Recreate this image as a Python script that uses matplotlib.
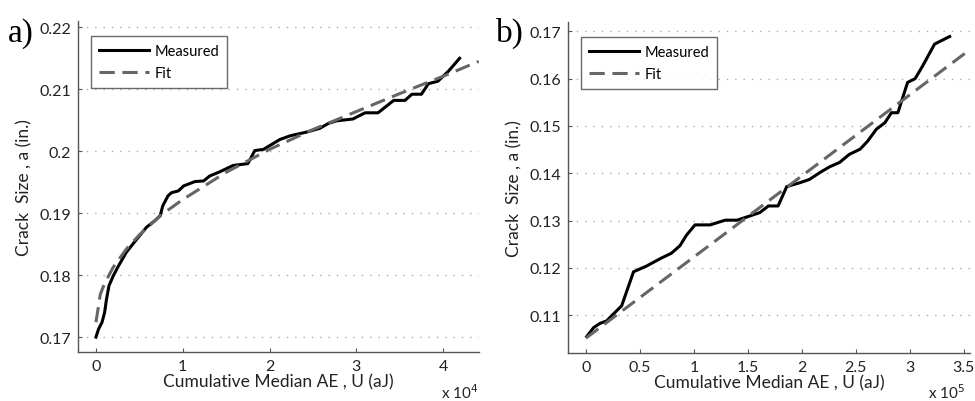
import matplotlib.pyplot as plt

# a) crack size vs cumulative median AE (x 1e4 aJ)
u_a = [0.00, 0.03, 0.07, 0.10, 0.12, 0.15, 0.20, 0.26, 0.35, 0.47, 0.58, 0.68,
       0.74, 0.77, 0.83, 0.87, 0.95, 1.01, 1.14, 1.24, 1.31, 1.43, 1.58, 1.75,
       1.83, 1.93, 2.12, 2.24, 2.43, 2.58, 2.68, 2.77, 2.96, 3.10, 3.25, 3.43,
       3.56, 3.64, 3.75, 3.83, 3.94, 4.06, 4.19]
a_a = [0.1700, 0.1713, 0.1724, 0.1740, 0.1760, 0.1783, 0.1799, 0.1815, 0.1837,
       0.1858, 0.1877, 0.1888, 0.1896, 0.1912, 0.1928, 0.1933, 0.1936, 0.1944,
       0.1951, 0.1952, 0.1960, 0.1967, 0.1977, 0.1980, 0.2001, 0.2003, 0.2019,
       0.2025, 0.2031, 0.2037, 0.2045, 0.2049, 0.2052, 0.2062, 0.2062, 0.2082,
       0.2082, 0.2092, 0.2092, 0.2109, 0.2113, 0.2129, 0.2150]
fit_u_a = [0.00, 0.05, 0.10, 0.20, 0.35, 0.50, 0.75, 1.00, 1.50, 2.00, 2.50,
           3.00, 3.50, 4.00, 4.41]
fit_a_a = [0.1724, 0.1769, 0.1787, 0.1813, 0.1842, 0.1865, 0.1897, 0.1922,
           0.1966, 0.2003, 0.2035, 0.2064, 0.2093, 0.2121, 0.2145]

# b) crack size vs cumulative median AE (x 1e5 aJ)
u_b = [0.006, 0.07, 0.13, 0.19, 0.25, 0.33, 0.44, 0.56, 0.69, 0.79, 0.87, 0.93,
       1.01, 1.15, 1.29, 1.40, 1.52, 1.61, 1.69, 1.78, 1.86, 1.98, 2.07, 2.17,
       2.26, 2.35, 2.44, 2.54, 2.61, 2.69, 2.77, 2.83, 2.89, 2.98, 3.05, 3.12,
       3.23, 3.37]
a_b = [0.1055, 0.1074, 0.1083, 0.1088, 0.1102, 0.1120, 0.1192, 0.1204, 0.1220,
       0.1231, 0.1247, 0.1269, 0.1291, 0.1291, 0.1301, 0.1301, 0.1310, 0.1317,
       0.1331, 0.1331, 0.1372, 0.1380, 0.1387, 0.1402, 0.1414, 0.1423, 0.1440,
       0.1451, 0.1468, 0.1493, 0.1507, 0.1528, 0.1528, 0.1592, 0.1600, 0.1627,
       0.1673, 0.1689]
fit_u_b = [0.0, 3.556]
fit_a_b = [0.1052, 0.1661]

plt.rcParams["font.family"] = "Lato"

fig = plt.figure(figsize=(9.75, 4.02), dpi=100)
ax_a = fig.add_axes([0.080, 0.122, 0.411, 0.823])
ax_b = fig.add_axes([0.5826, 0.119, 0.412, 0.823])


def style_axes(ax, xticks, xlabels, yticks, ylabels, xlim, ylim):
    ax.set_xlim(*xlim)
    ax.set_ylim(*ylim)
    ax.set_xticks(xticks)
    ax.set_xticklabels(xlabels)
    ax.set_yticks(yticks)
    ax.set_yticklabels(ylabels)
    for side in ["top", "right"]:
        ax.spines[side].set_visible(False)
    for side in ["left", "bottom"]:
        ax.spines[side].set_color("#555555")
        ax.spines[side].set_linewidth(1.0)
    ax.tick_params(direction="in", length=3, width=0.8, color="#555555",
                   labelsize=11.5, labelcolor="#222222", pad=5)
    ax.yaxis.grid(True, linestyle=(0, (1, 5)), color="#aaaaaa", linewidth=1)
    ax.set_axisbelow(True)
    ax.set_xlabel("Cumulative Median AE , U (aJ)", fontsize=12.5,
                  color="#222222", labelpad=0)
    ax.set_ylabel("Crack  Size , a (in.)", fontsize=12.5, color="#222222",
                  labelpad=5)


for ax, u, a, fu, fa in [(ax_a, u_a, a_a, fit_u_a, fit_a_a),
                         (ax_b, u_b, a_b, fit_u_b, fit_a_b)]:
    ax.plot(u, a, color="black", linewidth=2.2, label="Measured")
    ax.plot(fu, fa, color="#666666", linewidth=2.2, dashes=(5, 2.5),
            label="Fit")
    leg = ax.legend(loc="upper left", bbox_to_anchor=(0.033, 0.955),
                    fontsize=10.5, frameon=True, fancybox=False,
                    handlelength=3.4, borderpad=0.55, labelspacing=0.55,
                    handletextpad=0.4, borderaxespad=0)
    leg.get_frame().set_edgecolor("#444444")
    leg.get_frame().set_linewidth(1.0)

style_axes(ax_a, [0, 1, 2, 3, 4], ["0", "1", "2", "3", "4"],
           [0.17, 0.18, 0.19, 0.20, 0.21, 0.22],
           ["0.17", "0.18", "0.19", "0.2", "0.21", "0.22"],
           (-0.207, 4.41), (0.1676, 0.2210))
style_axes(ax_b, [0, 0.5, 1, 1.5, 2, 2.5, 3, 3.5],
           ["0", "0.5", "1", "1.5", "2", "2.5", "3", "3.5"],
           [0.11, 0.12, 0.13, 0.14, 0.15, 0.16, 0.17],
           ["0.11", "0.12", "0.13", "0.14", "0.15", "0.16", "0.17"],
           (-0.167, 3.556), (0.1020, 0.1719))

# exponent multipliers under the x axes
fig.text(0.452, 0.008, r"x 10$^{4}$", fontsize=11, color="#222222")
fig.text(0.952, 0.008, r"x 10$^{5}$", fontsize=11, color="#222222")

# panel letters
fig.text(0.008, 0.895, "a)", fontsize=24, family="Liberation Serif")
fig.text(0.509, 0.895, "b)", fontsize=24, family="Liberation Serif")

fig.savefig("out.png", dpi=100)
